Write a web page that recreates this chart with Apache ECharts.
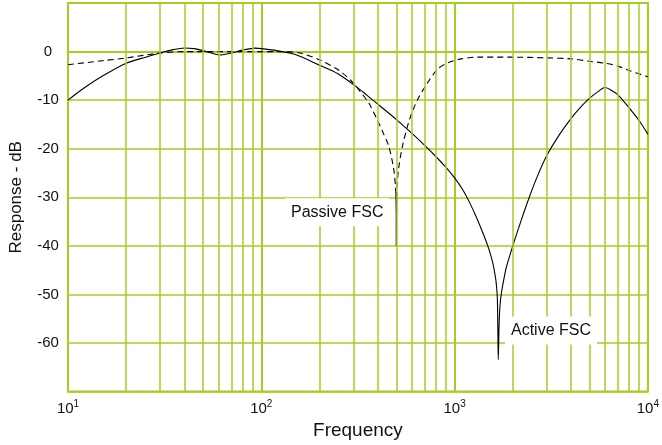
<!DOCTYPE html>
<html><head><meta charset="utf-8">
<script src="https://cdn.jsdelivr.net/npm/echarts@6/dist/echarts.min.js"></script>
<style>html,body{margin:0;padding:0;background:#fff}#c{width:662px;height:445px}</style>
</head><body><div id="c"></div>
<script>
// Active FSC (solid)
const activeFreq = [10,12,15,20,25,30,35,40,45,50,55,62,70,80,93,100,120,150,200,250,300,350,400,500,600,700,800,900,1000,1100,1200,1300,1400,1500,1560,1600,1640,1665,1683,1700,1720,1750,1800,1850,2000,2200,2424,2673,3000,3500,4000,4500,5000,5500,6000,6500,7000,8000,9000,10000];
const activeDb   = [-10,-7.6,-5.1,-2.4,-1.2,-0.3,0.4,0.75,0.6,0.2,-0.3,-0.7,-0.3,0.3,0.7,0.6,0.2,-0.6,-2.8,-4.6,-6.8,-8.9,-10.8,-14.0,-16.8,-19.3,-21.6,-23.8,-26.0,-28.4,-31.2,-34.2,-37.3,-40.5,-42.8,-44.8,-47.5,-51,-63.4,-56,-52,-49.5,-46.8,-44.5,-40,-35,-30.2,-25.8,-21.4,-17.0,-13.8,-11.4,-9.6,-8.3,-7.4,-8,-8.9,-11.6,-14.2,-17];
// Passive FSC (dashed)
const passiveFreq = [10,15,20,30,40,60,100,130,158,200,253,300,320,360,405,430,456,484,494,497,502,504,513,538,577,610,649,731,822,925,1082,1319,2000,3000,4000,5000,6000,7000,8000,10000];
const passiveDb   = [-2.7,-1.9,-1.3,-0.3,0,0,0,0,-0.3,-1.7,-3.9,-6.5,-7.9,-10.6,-14.7,-17,-19.4,-24.1,-27.5,-29,-29,-27.5,-24.1,-19.4,-14.7,-12,-9.6,-6.2,-3.5,-2.3,-1.5,-1.15,-1.15,-1.3,-1.5,-2.0,-2.4,-3.0,-3.9,-5.2];
// Passive FSC null tip (drawn solid)
const passiveTipFreq = [497, 499, 499, 502];
const passiveTipDb   = [-29, -33, -40, -29];
// minor vertical grid lines
const minorFreqs = [20,30,40,50,60,70,80,90,200,300,400,500,600,700,800,900,2000,3000,4000,5000,6000,7000,8000,9000];
// annotation labels
const annotations = [
  {text: 'Passive FSC', freq: 247, db: -33.1},
  {text: 'Active FSC', freq: 3153, db: -57.4}
];
const yMin = -70, yMax = 10, yStep = 10;
const xMin = 10, xMax = 10000;

const GREEN = '#a2cf22';
const FONT = '"Liberation Sans", Arial, Helvetica, sans-serif';

const chart = echarts.init(document.getElementById('c'), null, {renderer: 'canvas'});
const zip = (a, b) => a.map((v, i) => [v, b[i]]);

chart.setOption({
  animation: false,
  backgroundColor: '#fff',
  grid: {left: 65, right: 10, top: 3, bottom: 48, show: true, borderColor: GREEN, borderWidth: 2, backgroundColor: 'transparent'},
  xAxis: {
    type: 'log', logBase: 10, min: xMin, max: xMax, splitNumber: 3,
    axisLine: {show: true, lineStyle: {color: GREEN, width: 2}},
    axisTick: {show: false},
    splitLine: {show: true, lineStyle: {color: GREEN, width: 2}},
    axisLabel: {
      margin: 8,
      formatter: v => '{b|10}{s|' + Math.round(Math.log10(v)) + '}',
      rich: {
        b: {fontSize: 15, fontFamily: FONT, color: '#111', lineHeight: 18},
        s: {fontSize: 10, fontFamily: FONT, color: '#111', lineHeight: 10, verticalAlign: 'top'}
      }
    },
    name: 'Frequency', nameLocation: 'middle', nameGap: 14,
    nameTextStyle: {fontSize: 19, fontFamily: FONT, color: '#111'}
  },
  yAxis: {
    type: 'value', min: yMin, max: yMax, interval: yStep,
    axisLine: {show: true, lineStyle: {color: GREEN, width: 2}},
    axisTick: {show: false},
    splitLine: {show: true, lineStyle: {color: GREEN, width: 1.5}},
    axisLabel: {
      margin: 20, align: 'center', fontSize: 15, fontFamily: FONT, color: '#111',
      formatter: v => (v <= yMin || v >= yMax) ? '' : String(v)
    },
    name: 'Response - dB', nameLocation: 'middle', nameGap: 43,
    nameTextStyle: {fontSize: 17, fontFamily: FONT, color: '#111'}
  },
  series: [
    {
      name: 'grid', type: 'line', data: [], z: 1, silent: true,
      markLine: {
        silent: true, symbol: 'none', animation: false,
        label: {show: false},
        lineStyle: {color: GREEN, width: 1.5, type: 'solid'},
        data: minorFreqs.map(f => ({xAxis: f}))
      }
    },
    {
      name: 'Passive FSC', type: 'line', z: 3, showSymbol: false, smooth: 0.3,
      data: zip(passiveFreq, passiveDb),
      lineStyle: {color: '#000', width: 1.1, type: [6, 4]},
      markPoint: {
        silent: true, symbol: 'circle', symbolSize: 1,
        itemStyle: {color: 'rgba(0,0,0,0)'},
        label: {show: true, position: 'inside', color: '#111', fontSize: 16, fontFamily: FONT,
                backgroundColor: '#fff', padding: [6, 6, 6, 6]},
        data: annotations.map(a => ({coord: [a.freq, a.db], value: a.text, label: {formatter: a.text}}))
      }
    },
    {
      name: 'Passive FSC tip', type: 'line', z: 3, showSymbol: false,
      data: zip(passiveTipFreq, passiveTipDb),
      lineStyle: {color: '#000', width: 1.1}
    },
    {
      name: 'Active FSC', type: 'line', z: 2, showSymbol: false, smooth: 0.3,
      data: zip(activeFreq, activeDb),
      lineStyle: {color: '#000', width: 1.1}
    }
  ]
});
</script>
</body></html>
